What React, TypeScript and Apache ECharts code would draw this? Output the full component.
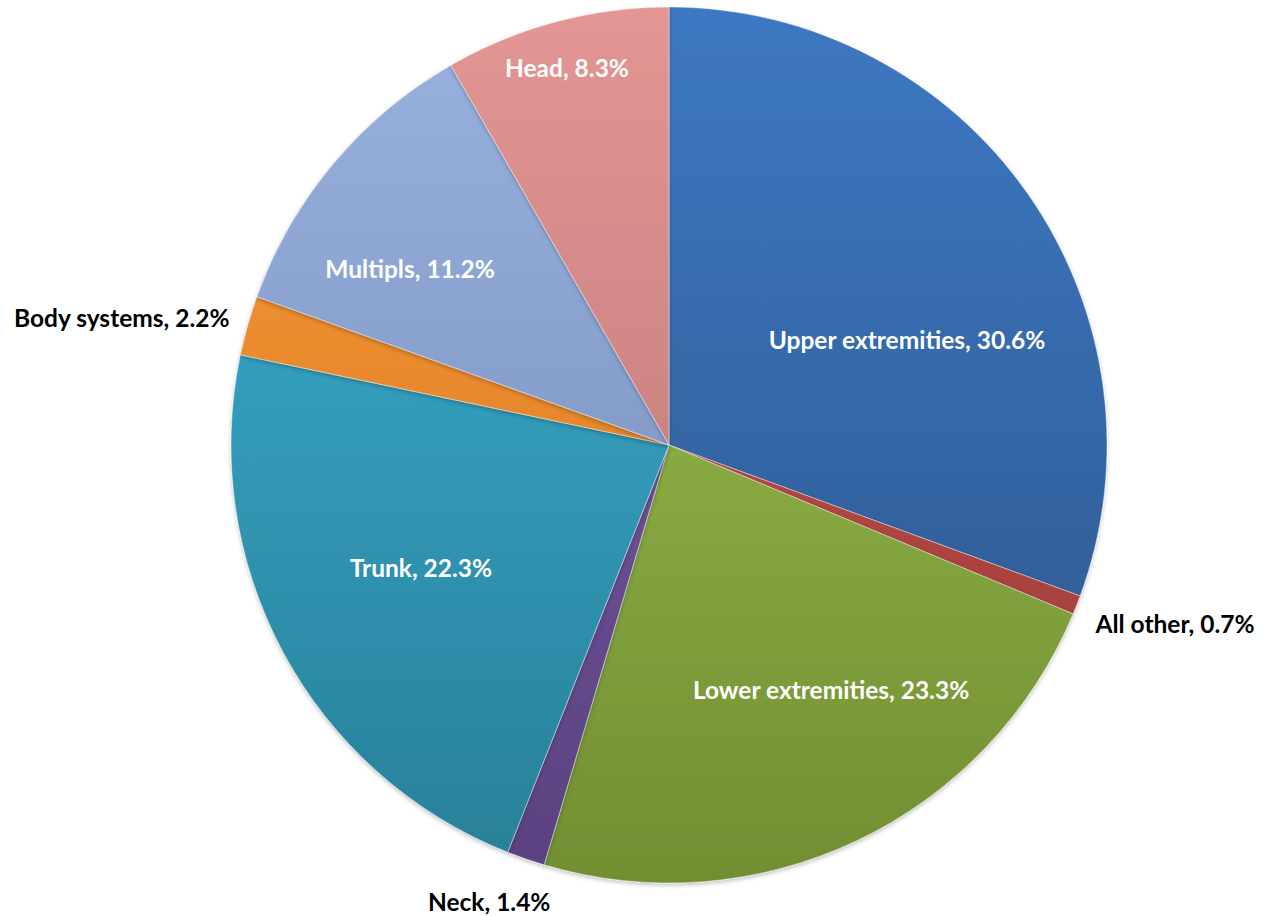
import React, { useEffect, useRef } from "react";
import * as echarts from "echarts";

const categories = [
  "Upper extremities",
  "All other",
  "Lower extremities",
  "Neck",
  "Trunk",
  "Body systems",
  "Multipls",
  "Head",
];
const values = [30.6, 0.7, 23.3, 1.4, 22.3, 2.2, 11.2, 8.3];

const colorsTop = ["#3D78C2", "#C9534F", "#A0C653", "#7F60A9", "#3CB2D6", "#F79B3B", "#9AB2E0", "#E39694"];
const colorsBottom = ["#2B5487", "#9A3A37", "#718E32", "#5A4180", "#287F97", "#D5721B", "#7087B4", "#B47170"];
const outsideLabel = [false, true, false, true, false, true, false, false];
const labelRadius = [0.594, 1.225, 0.669, 1.121, 0.632, 1.283, 0.716, 0.892];
const labelAngleShift = [11.1, -2.0, -8.2, 2.4, 1.9, -2.7, -5.6, -0.2];

const CX = 669;
const CY = 445;
const R = 438;

export default function App() {
  const ref = useRef<HTMLDivElement>(null);
  useEffect(() => {
    if (!ref.current) return;
    const chart = echarts.init(ref.current, null, { renderer: "svg" });
    const total = values.reduce((a, b) => a + b, 0);
    const mids: number[] = [];
    let acc = 0;
    values.forEach((v) => {
      mids.push(((acc + v / 2) / total) * 360);
      acc += v;
    });
    const data = categories.map((name, i) => ({
      name,
      value: values[i],
      itemStyle: {
        color: new echarts.graphic.LinearGradient(
          0,
          CY - R,
          0,
          CY + R,
          [
            { offset: 0, color: colorsTop[i] },
            { offset: 1, color: colorsBottom[i] },
          ],
          true
        ),
      },
      label: { color: outsideLabel[i] ? "#000000" : "#FFFFFF" },
    }));
    chart.setOption({
      animation: false,
      backgroundColor: "#FFFFFF",
      series: [
        {
          type: "pie",
          center: [CX, CY],
          radius: R,
          startAngle: 90,
          clockwise: true,
          avoidLabelOverlap: false,
          itemStyle: {
            borderColor: "rgba(255,255,255,0.4)",
            borderWidth: 1,
            shadowBlur: 4,
            shadowOffsetY: 2,
            shadowColor: "rgba(0,0,0,0.25)",
          },
          label: {
            show: true,
            position: "inside",
            formatter: "{b}, {c}%",
            fontFamily: "Lato, 'Open Sans', sans-serif",
            fontWeight: "bold",
            fontSize: 24.5,
          },
          labelLine: { show: false },
          emphasis: { disabled: true },
          labelLayout: (params: any) => {
            const i = params.dataIndex;
            const ang = ((mids[i] + labelAngleShift[i]) * Math.PI) / 180;
            const d = labelRadius[i] * R;
            return {
              x: CX + d * Math.sin(ang),
              y: CY - d * Math.cos(ang),
              align: "center",
              verticalAlign: "middle",
            };
          },
          data,
        },
      ],
    });
    return () => chart.dispose();
  }, []);
  return (
    <div
      ref={ref}
      style={{ position: "fixed", left: 0, top: 0, width: 1264, height: 916 }}
    />
  );
}
